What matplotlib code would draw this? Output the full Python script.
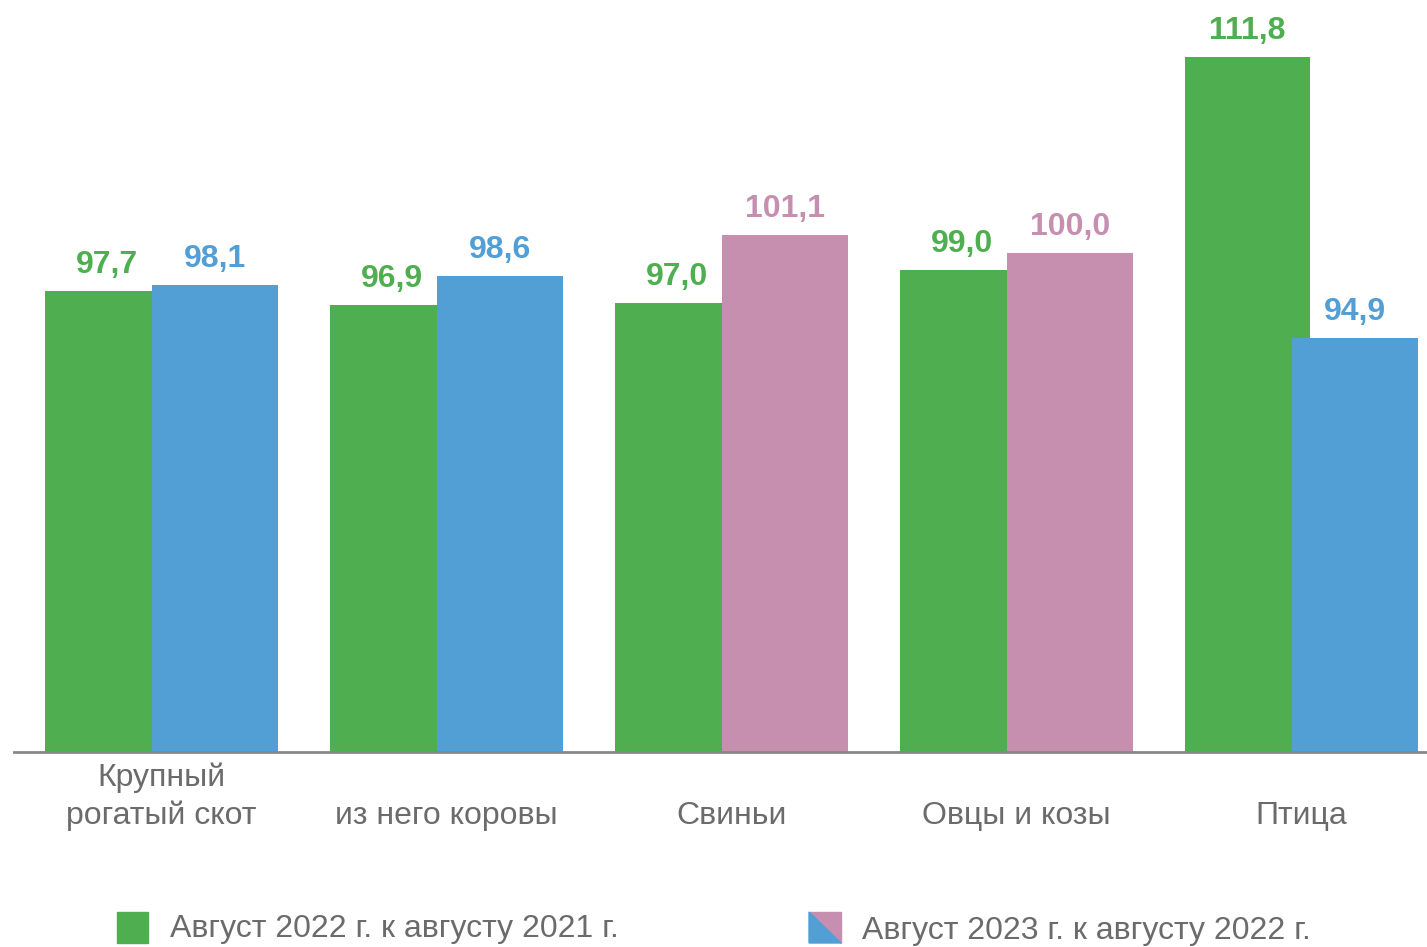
import matplotlib
matplotlib.use("Agg")
import matplotlib.pyplot as plt
from matplotlib.patches import Rectangle, Polygon
from matplotlib.transforms import blended_transform_factory
import numpy as np

plt.rcParams['font.family'] = ['Liberation Sans', 'DejaVu Sans']

# data
categories = ["Крупный\nрогатый скот", "из него коровы", "Свиньи", "Овцы и козы", "Птица"]
aug2022 = [97.7, 96.9, 97.0, 99.0, 111.8]
aug2023 = [98.1, 98.6, 101.1, 100.0, 94.9]
legend_labels = ["Август 2022 г. к августу 2021 г.", "Август 2023 г. к августу 2022 г."]

GREEN = "#4FAF50"
BLUE = "#529FD6"
PINK = "#C68FAF"
colors_2023 = [BLUE, BLUE, PINK, PINK, BLUE]
GRAY_TXT = "#6B6B6B"

W, H = 1427, 947
fig = plt.figure(figsize=(W / 100, H / 100), dpi=100)
ax = fig.add_axes([14 / W, (H - 752) / H, 1 - 14 / W, 752 / H])

x = np.arange(len(categories))
w1 = 125 / 285
w2 = 126 / 285
off1 = -0.409
off2 = off1 + 107.5 / 285
base = 70

ax.bar(x + off1, np.array(aug2022) - base, w1, bottom=base, align='edge', color=GREEN, zorder=2)
ax.bar(x + off2, np.array(aug2023) - base, w2, bottom=base, align='edge', color=colors_2023, zorder=3)

# value labels
for i in range(len(categories)):
    ax.annotate(f"{aug2022[i]:.1f}".replace('.', ','), (x[i] + off1 + w1 / 2, aug2022[i]),
                xytext=(0, 18), textcoords='offset pixels', ha='center', va='baseline',
                fontsize=23, fontweight='bold', color=GREEN)
    ax.annotate(f"{aug2023[i]:.1f}".replace('.', ','), (x[i] + off2 + w2 / 2, aug2023[i]),
                xytext=(0, 18), textcoords='offset pixels', ha='center', va='baseline',
                fontsize=23, fontweight='bold', color=colors_2023[i])

ax.set_xlim((14 - 161.5) / 285, (W - 161.5) / 285)
ax.set_ylim(base, base + 752 / 16.63)

for s in ['top', 'left', 'right']:
    ax.spines[s].set_visible(False)
ax.spines['bottom'].set_color('#888888')
ax.spines['bottom'].set_linewidth(2)
ax.spines['bottom'].set_zorder(4)
ax.set_xticks([])
ax.set_yticks([])

# category labels
tr = blended_transform_factory(ax.transData, fig.transFigure)
for i, lab in enumerate(categories):
    ax.text(x[i], (H - 824) / H, lab, transform=tr, ha='center', va='baseline',
            fontsize=23, color=GRAY_TXT, linespacing=1.3, multialignment='center')

# legend
fig.add_artist(Rectangle((117 / W, (H - 943) / H), 31 / W, 31 / H,
                         transform=fig.transFigure, color=GREEN))
fig.text(170 / W, (H - 937) / H, legend_labels[0], fontsize=23, color=GRAY_TXT, va='baseline')

x0, x1 = 809 / W, 841 / W
y0, y1 = (H - 943) / H, (H - 912) / H
fig.add_artist(Polygon([(x0, y1), (x1, y1), (x1, y0)], closed=True,
                       transform=fig.transFigure, color=PINK))
fig.add_artist(Polygon([(x0, y1), (x1, y0), (x0, y0)], closed=True,
                       transform=fig.transFigure, color=BLUE))
fig.text(862 / W, (H - 939) / H, legend_labels[1], fontsize=23, color=GRAY_TXT, va='baseline')

fig.savefig("out.png", dpi=100)
